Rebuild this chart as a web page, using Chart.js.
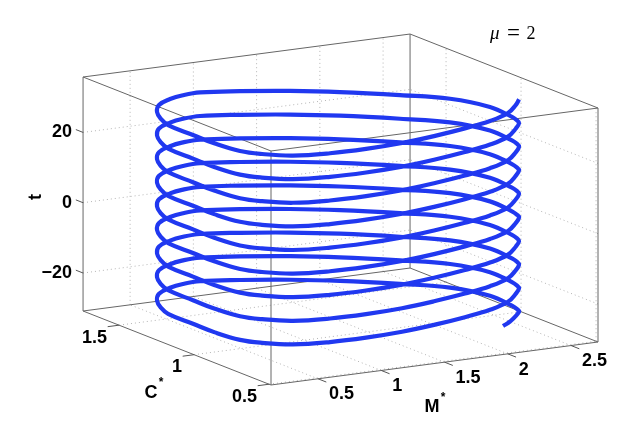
<!DOCTYPE html>
<html>
<head>
<meta charset="utf-8">
<style>html,body{margin:0;padding:0;background:#fff}canvas{display:block}</style>
<script src="https://cdn.jsdelivr.net/npm/chart.js@4"></script>
</head>
<body>
<canvas id="c" width="631" height="421"></canvas>
<script>
const mTicks = [0.5, 1, 1.5, 2, 2.5];
const cTicks = [0.5, 1, 1.5];
const tTicks = [-20, 0, 20];
const mRange = [0.128, 2.713];
const cRange = [0.487, 1.74];
const tRange = [-30.81, 35.76];

const helixM = [
2.574,2.480,2.318,2.106,1.861,1.586,1.298,1.011,0.746,0.507,0.362,0.291,0.269,0.283,0.301,0.358,0.446,0.572,0.734,0.875,1.026,1.295,1.610,1.904,2.228,2.485,2.613,2.609,2.594,
2.574,2.480,2.318,2.106,1.861,1.586,1.298,1.011,0.746,0.507,0.362,0.291,0.269,0.283,0.301,0.358,0.446,0.572,0.734,0.875,1.026,1.295,1.610,1.904,2.228,2.485,2.613,2.609,2.594,
2.574,2.480,2.318,2.106,1.861,1.586,1.298,1.011,0.746,0.507,0.362,0.291,0.269,0.283,0.301,0.358,0.446,0.572,0.734,0.875,1.026,1.295,1.610,1.904,2.228,2.485,2.613,2.609,2.594,
2.574,2.480,2.318,2.106,1.861,1.586,1.298,1.011,0.746,0.507,0.362,0.291,0.269,0.283,0.301,0.358,0.446,0.572,0.734,0.875,1.026,1.295,1.610,1.904,2.228,2.485,2.613,2.609,2.594,
2.574,2.480,2.318,2.106,1.861,1.586,1.298,1.011,0.746,0.507,0.362,0.291,0.269,0.283,0.301,0.358,0.446,0.572,0.734,0.875,1.026,1.295,1.610,1.904,2.228,2.485,2.613,2.609,2.594,
2.574,2.480,2.318,2.106,1.861,1.586,1.298,1.011,0.746,0.507,0.362,0.291,0.269,0.283,0.301,0.358,0.446,0.572,0.734,0.875,1.026,1.295,1.610,1.904,2.228,2.485,2.613,2.609,2.594,
2.574,2.480,2.318,2.106,1.861,1.586,1.298,1.011,0.746,0.507,0.362,0.291,0.269,0.283,0.301,0.358,0.446,0.572,0.734,0.875,1.026,1.295,1.610,1.904,2.228,2.485,2.613,2.609,2.594,
2.574,2.480,2.318,2.106,1.861,1.586,1.298,1.011,0.746,0.507,0.362,0.291,0.269,0.283,0.301,0.358,0.446,0.572,0.734,0.875,1.026,1.295,1.610,1.904,2.228,2.485,2.613,2.609,2.594,
2.574,2.480,2.318,2.106,1.861,1.586,1.298,1.011,0.746,0.507,0.362,0.291,0.269,0.283,0.301,0.358,0.446,0.572,0.734,0.875,1.026,1.295,1.610,1.904,2.228,2.485,2.613,2.609,2.594,
2.574,2.384,2.292
];
const helixC = [
0.896,0.838,0.754,0.695,0.656,0.623,0.600,0.598,0.615,0.660,0.744,0.831,0.980,1.138,1.319,1.415,1.515,1.608,1.671,1.704,1.717,1.678,1.610,1.525,1.398,1.281,1.123,0.973,0.926,
0.896,0.838,0.754,0.695,0.656,0.623,0.600,0.598,0.615,0.660,0.744,0.831,0.980,1.138,1.319,1.415,1.515,1.608,1.671,1.704,1.717,1.678,1.610,1.525,1.398,1.281,1.123,0.973,0.926,
0.896,0.838,0.754,0.695,0.656,0.623,0.600,0.598,0.615,0.660,0.744,0.831,0.980,1.138,1.319,1.415,1.515,1.608,1.671,1.704,1.717,1.678,1.610,1.525,1.398,1.281,1.123,0.973,0.926,
0.896,0.838,0.754,0.695,0.656,0.623,0.600,0.598,0.615,0.660,0.744,0.831,0.980,1.138,1.319,1.415,1.515,1.608,1.671,1.704,1.717,1.678,1.610,1.525,1.398,1.281,1.123,0.973,0.926,
0.896,0.838,0.754,0.695,0.656,0.623,0.600,0.598,0.615,0.660,0.744,0.831,0.980,1.138,1.319,1.415,1.515,1.608,1.671,1.704,1.717,1.678,1.610,1.525,1.398,1.281,1.123,0.973,0.926,
0.896,0.838,0.754,0.695,0.656,0.623,0.600,0.598,0.615,0.660,0.744,0.831,0.980,1.138,1.319,1.415,1.515,1.608,1.671,1.704,1.717,1.678,1.610,1.525,1.398,1.281,1.123,0.973,0.926,
0.896,0.838,0.754,0.695,0.656,0.623,0.600,0.598,0.615,0.660,0.744,0.831,0.980,1.138,1.319,1.415,1.515,1.608,1.671,1.704,1.717,1.678,1.610,1.525,1.398,1.281,1.123,0.973,0.926,
0.896,0.838,0.754,0.695,0.656,0.623,0.600,0.598,0.615,0.660,0.744,0.831,0.980,1.138,1.319,1.415,1.515,1.608,1.671,1.704,1.717,1.678,1.610,1.525,1.398,1.281,1.123,0.973,0.926,
0.896,0.838,0.754,0.695,0.656,0.623,0.600,0.598,0.615,0.660,0.744,0.831,0.980,1.138,1.319,1.415,1.515,1.608,1.671,1.704,1.717,1.678,1.610,1.525,1.398,1.281,1.123,0.973,0.926,
0.896,0.797,0.765
];
const helixT = [
32.00,31.86,31.72,31.44,31.16,30.88,30.60,30.32,30.04,29.76,29.48,29.20,28.92,28.64,28.36,28.22,28.08,27.94,27.80,27.66,27.52,27.24,26.96,26.68,26.41,26.13,25.85,25.57,25.43,
25.29,25.15,25.01,24.73,24.45,24.17,23.89,23.61,23.33,23.05,22.77,22.49,22.21,21.93,21.65,21.51,21.37,21.23,21.09,20.95,20.81,20.53,20.25,19.97,19.70,19.42,19.14,18.86,18.72,
18.57,18.43,18.29,18.01,17.73,17.45,17.17,16.89,16.61,16.33,16.05,15.77,15.49,15.21,14.93,14.79,14.65,14.51,14.37,14.23,14.09,13.81,13.53,13.25,12.98,12.70,12.42,12.14,12.00,
11.86,11.72,11.58,11.30,11.02,10.74,10.46,10.18,9.90,9.62,9.34,9.06,8.78,8.50,8.22,8.08,7.94,7.80,7.66,7.52,7.38,7.10,6.82,6.54,6.27,5.99,5.71,5.43,5.29,
5.14,5.00,4.86,4.58,4.30,4.02,3.74,3.46,3.18,2.90,2.62,2.34,2.06,1.78,1.50,1.36,1.22,1.08,0.94,0.80,0.66,0.38,0.10,-0.18,-0.45,-0.73,-1.01,-1.29,-1.43,
-1.57,-1.71,-1.85,-2.13,-2.41,-2.69,-2.97,-3.25,-3.53,-3.81,-4.09,-4.37,-4.65,-4.93,-5.21,-5.35,-5.49,-5.63,-5.77,-5.91,-6.05,-6.33,-6.61,-6.89,-7.16,-7.44,-7.72,-8.00,-8.14,
-8.28,-8.42,-8.56,-8.84,-9.12,-9.40,-9.68,-9.96,-10.24,-10.52,-10.80,-11.08,-11.36,-11.64,-11.92,-12.06,-12.20,-12.34,-12.48,-12.62,-12.76,-13.04,-13.32,-13.60,-13.87,-14.15,-14.43,-14.71,-14.85,
-15.00,-15.14,-15.28,-15.56,-15.84,-16.12,-16.40,-16.68,-16.96,-17.24,-17.52,-17.80,-18.08,-18.36,-18.64,-18.78,-18.92,-19.06,-19.20,-19.34,-19.48,-19.76,-20.04,-20.32,-20.59,-20.87,-21.15,-21.43,-21.57,
-21.71,-21.85,-21.99,-22.27,-22.55,-22.83,-23.11,-23.39,-23.67,-23.95,-24.23,-24.51,-24.79,-25.07,-25.35,-25.49,-25.63,-25.77,-25.91,-26.05,-26.19,-26.47,-26.75,-27.03,-27.30,-27.58,-27.86,-28.14,-28.28,
-28.43,-28.68,-28.93
];

// Oblique view of the 3-D box: M*, C*, t -> plane coordinates of the chart's two scales
function view(M, C, t) {
  const u = M - mRange[0], v = C - cRange[0];
  return { x: 271 + u * 126.5 - v * 150, y: t + u * 4.731 + v * 16.797 - 21.05 };
}
const [M0, M1] = mRange, [C0, C1] = cRange, [T0, T1] = tRange;
const datasets = [];
function seg(a, b, style) {
  datasets.push(Object.assign({ data: [view(...a), view(...b)], showLine: true, pointRadius: 0, clip: false, tension: 0 }, style));
}
const gridStyle = { borderColor: '#b4b4b4', borderWidth: 1, borderDash: [1, 3], order: 3 };
const boxStyle = { borderColor: '#666666', borderWidth: 1, order: 2 };
const markStyle = { borderColor: '#555555', borderWidth: 1, order: 2 };

mTicks.forEach(m => {
  seg([m, C1, T0], [m, C1, T1], gridStyle);
  seg([m, C0, T0], [m, C1, T0], gridStyle);
  seg([m, C0, T0], [m, C0 - 0.055, T0], markStyle);
});
cTicks.forEach(c => {
  seg([M1, c, T0], [M1, c, T1], gridStyle);
  seg([M0, c, T0], [M1, c, T0], gridStyle);
  seg([M0, c, T0], [M0 - 0.09, c, T0], markStyle);
});
tTicks.forEach(t => {
  seg([M0, C1, t], [M1, C1, t], gridStyle);
  seg([M1, C0, t], [M1, C1, t], gridStyle);
  seg([M0, C1, t], [M0, C1 + 0.048, t], markStyle);
});
[[M0, C0], [M1, C0], [M1, C1], [M0, C1]].forEach(([m, c], i, arr) => {
  const [m2, c2] = arr[(i + 1) % 4];
  seg([m, c, T0], [m, c, T1], boxStyle);
  seg([m, c, T0], [m2, c2, T0], boxStyle);
  seg([m, c, T1], [m2, c2, T1], boxStyle);
});
datasets.push({
  label: 'Helix',
  data: helixT.map((t, i) => view(helixM[i], helixC[i], t)),
  showLine: true, pointRadius: 0, clip: false,
  borderColor: '#2038f0', borderWidth: 4.2, tension: 0.4,
  borderJoinStyle: 'round', order: 1
});

const labelsPlugin = {
  id: 'labels3d',
  afterDraw(chart) {
    const ctx = chart.ctx, sx = chart.scales.x, sy = chart.scales.y;
    const at = (m, c, t) => { const p = view(m, c, t); return [sx.getPixelForValue(p.x), sy.getPixelForValue(p.y)]; };
    ctx.save();
    ctx.fillStyle = '#000';
    ctx.textBaseline = 'middle';
    ctx.font = 'bold 18px "Liberation Sans"';
    ctx.textAlign = 'left';
    mTicks.forEach(m => { const [x, y] = at(m, C0, T0); ctx.fillText(String(m), x + 11, y + 15.7); });
    ctx.textAlign = 'right';
    cTicks.forEach(c => { const [x, y] = at(M0, c, T0); ctx.fillText(String(c), x - 12, y + 12.5); });
    ctx.textAlign = 'center';
    ctx.fillText('M', 432, 407);
    ctx.fillText('C', 151, 393);
    ctx.save();
    ctx.translate(36, 197);
    ctx.rotate(-Math.PI / 2);
    ctx.fillText('t', 0, 0);
    ctx.restore();
    ctx.font = 'bold 12px "Liberation Sans"';
    ctx.fillText('*', 443, 398);
    ctx.fillText('*', 161, 383);
    ctx.textBaseline = 'alphabetic';
    ctx.textAlign = 'left';
    ctx.font = 'italic 19px "Liberation Serif"';
    ctx.fillText('\u03BC', 490, 39);
    ctx.font = '23px "Liberation Serif"';
    ctx.fillText('=', 507, 39.5);
    ctx.font = '18px "Liberation Serif"';
    ctx.fillText('2', 526.5, 39);
    ctx.restore();
  }
};

new Chart(document.getElementById('c'), {
  type: 'scatter',
  data: { datasets },
  plugins: [labelsPlugin],
  options: {
    responsive: false,
    animation: false,
    layout: { padding: { left: 0, right: 33, top: 77, bottom: 110 } },
    plugins: { legend: { display: false }, tooltip: { enabled: false } },
    scales: {
      x: { type: 'linear', display: false, min: 83, max: 598 },
      y: {
        type: 'linear', min: T0, max: T1,
        afterFit(s) { s.width = 83; },
        afterBuildTicks(s) { s.ticks = tTicks.map(v => ({ value: v })); },
        grid: { display: false, drawTicks: false },
        border: { display: false },
        ticks: {
          padding: 11, color: '#000',
          font: { family: '"Liberation Sans"', weight: 'bold', size: 18 },
          callback: v => String(v).replace('-', '\u2212')
        }
      }
    }
  }
});
</script>
</body>
</html>
